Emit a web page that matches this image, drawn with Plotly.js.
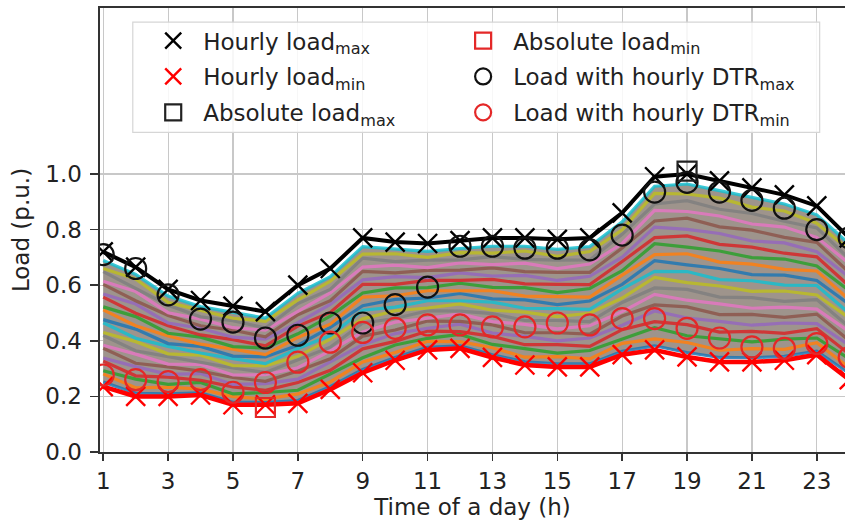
<!DOCTYPE html>
<html>
<head>
<meta charset="utf-8">
<script src="https://cdn.plot.ly/plotly-3.0.1.min.js"></script>
<style>
  html, body { margin: 0; padding: 0; background: #fff; overflow: hidden; }
  #chart { width: 845px; height: 526px; }
</style>
</head>
<body>
<div id="chart"></div>
<script>
// Hours of the day
const hours = [1,2,3,4,5,6,7,8,9,10,11,12,13,14,15,16,17,18,19,20,21,22,23,24];
const tickHours = [1,3,5,7,9,11,13,15,17,19,21,23];
const tickHourLabels = ['1','3','5','7','9','11','13','15','17','19','21','23'];
const loadTicks = [0, 0.2, 0.4, 0.6, 0.8, 1.0];
const loadTickLabels = ['0.0','0.2','0.4','0.6','0.8','1.0'];

// Envelope of the hourly loads (p.u.)
const hourlyLoadMax = [0.72,0.665,0.585,0.545,0.525,0.505,0.60,0.66,0.77,0.755,0.75,0.76,0.77,0.77,0.765,0.77,0.86,0.99,1.0,0.975,0.95,0.925,0.885,0.77];
const hourlyLoadMin = [0.235,0.20,0.20,0.205,0.17,0.17,0.175,0.225,0.285,0.33,0.367,0.373,0.34,0.313,0.306,0.306,0.35,0.367,0.342,0.324,0.324,0.33,0.35,0.26];

// Absolute extremes
const absoluteMaxHour = [19];
const absoluteMaxLoad = [1.01];
const absoluteMinHour = [6];
const absoluteMinLoad = [0.16];

// Loads at the hours with extreme dynamic thermal rating
const dtrMaxLoad = [0.71,0.66,0.565,0.478,0.467,0.41,0.42,0.464,0.464,0.53,0.593,0.74,0.74,0.733,0.733,0.727,0.78,0.935,0.97,0.935,0.905,0.877,0.80,0.77];
const dtrMinLoad = [0.277,0.26,0.253,0.26,0.215,0.25,0.323,0.395,0.43,0.445,0.457,0.457,0.45,0.45,0.464,0.457,0.48,0.48,0.445,0.41,0.378,0.373,0.39,0.34];

// Daily load profiles (p.u.)
const loadProfiles = [
  [.252,.211,.209,.213,.179,.178,.185,.235,.297,.340,.376,.382,.350,.324,.317,.317,.362,.382,.358,.340,.339,.344,.363,.282],
  [.281,.231,.233,.226,.199,.190,.209,.252,.324,.358,.398,.397,.375,.341,.343,.335,.391,.407,.394,.366,.372,.369,.393,.303],
  [.292,.262,.243,.250,.209,.214,.222,.281,.339,.385,.409,.423,.387,.372,.356,.365,.407,.447,.418,.407,.396,.406,.410,.335],
  [.327,.274,.269,.258,.234,.222,.250,.294,.371,.398,.435,.433,.416,.386,.386,.380,.440,.469,.458,.431,.434,.427,.444,.352],
  [.338,.307,.279,.282,.243,.246,.262,.323,.386,.426,.445,.460,.428,.416,.400,.410,.456,.507,.482,.470,.456,.464,.462,.384],
  [.373,.319,.306,.291,.268,.254,.291,.335,.417,.439,.471,.470,.457,.429,.429,.424,.489,.529,.522,.494,.495,.484,.496,.401],
  [.384,.352,.316,.315,.277,.278,.303,.364,.432,.467,.481,.497,.469,.459,.443,.454,.505,.567,.546,.533,.517,.521,.514,.433],
  [.419,.364,.343,.323,.302,.286,.331,.377,.464,.480,.508,.507,.498,.473,.473,.469,.538,.590,.585,.557,.555,.542,.548,.450],
  [.430,.397,.353,.348,.311,.310,.344,.406,.479,.508,.518,.533,.510,.503,.487,.499,.554,.628,.609,.597,.578,.579,.565,.482],
  [.465,.409,.380,.356,.336,.318,.372,.419,.510,.521,.544,.544,.539,.517,.516,.513,.587,.650,.649,.620,.616,.600,.599,.499],
  [.476,.442,.390,.380,.345,.342,.384,.448,.526,.549,.554,.570,.551,.547,.530,.543,.603,.688,.673,.660,.638,.636,.617,.531],
  [.511,.454,.417,.388,.370,.350,.412,.460,.557,.562,.580,.581,.580,.561,.560,.557,.636,.710,.713,.683,.676,.657,.651,.548],
  [.522,.487,.427,.413,.379,.374,.425,.489,.572,.590,.591,.607,.592,.591,.573,.588,.652,.749,.737,.723,.699,.694,.669,.580],
  [.557,.499,.454,.421,.404,.382,.453,.502,.603,.603,.617,.617,.621,.605,.603,.602,.685,.771,.777,.747,.737,.715,.702,.597],
  [.568,.532,.464,.445,.413,.406,.465,.531,.619,.631,.627,.644,.633,.635,.617,.632,.701,.809,.801,.786,.759,.752,.720,.629],
  [.603,.544,.491,.454,.438,.414,.494,.544,.650,.644,.653,.654,.662,.649,.646,.646,.734,.831,.841,.810,.798,.772,.754,.646],
  [.614,.577,.501,.478,.447,.438,.506,.572,.665,.672,.663,.680,.674,.679,.660,.676,.750,.869,.865,.849,.820,.809,.772,.678],
  [.649,.589,.528,.486,.472,.446,.534,.585,.697,.685,.690,.691,.703,.693,.690,.691,.783,.892,.904,.873,.858,.830,.806,.695],
  [.660,.622,.538,.510,.481,.470,.547,.614,.712,.713,.700,.717,.715,.723,.704,.721,.799,.930,.928,.913,.881,.867,.823,.727],
  [.689,.639,.561,.523,.502,.482,.571,.631,.739,.730,.722,.732,.740,.740,.729,.739,.828,.956,.964,.940,.915,.892,.853,.748]
];

const cycleColors = ['#1f77b4','#ff7f0e','#2ca02c','#d62728','#9467bd','#8c564b','#e377c2','#7f7f7f','#bcbd22','#17becf'];
const textFont = { family: 'DejaVu Sans, sans-serif', size: 23, color: '#222' };
const tickFont = { family: 'DejaVu Sans, sans-serif', size: 23, color: '#222' };
const redMark = 'rgb(228,40,40)';

const traces = [];

// Muted base between the lowest and highest profiles
traces.push({ x: hours, y: loadProfiles[0], mode: 'lines', line: { width: 0 }, showlegend: false, hoverinfo: 'skip' });
traces.push({ x: hours, y: loadProfiles[loadProfiles.length - 1], mode: 'lines', line: { width: 0 },
  fill: 'tonexty', fillcolor: 'rgb(158,148,140)', showlegend: false, hoverinfo: 'skip' });

// Individual profiles
loadProfiles.forEach((p, i) => {
  traces.push({ x: hours, y: p, mode: 'lines', showlegend: false, hoverinfo: 'skip',
    line: { color: cycleColors[i % cycleColors.length], width: 3.2 }, opacity: 0.85 });
});

// Envelope lines
traces.push({ x: hours, y: hourlyLoadMax, mode: 'lines', line: { color: '#000', width: 4 }, showlegend: false });
traces.push({ x: hours, y: hourlyLoadMin, mode: 'lines', line: { color: '#ff0000', width: 4.5 }, showlegend: false });

// Legend column 1
traces.push({ x: hours, y: hourlyLoadMax, mode: 'markers', name: 'Hourly load<sub>max</sub>',
  marker: { symbol: 'x-thin', size: 19, line: { color: '#000', width: 2.4 } },
  legend: 'legend', legendgroup: 'a' });
traces.push({ x: hours, y: hourlyLoadMin, mode: 'markers', name: 'Hourly load<sub>min</sub>',
  marker: { symbol: 'x-thin', size: 19, line: { color: '#ff0000', width: 2.4 } },
  legend: 'legend', legendgroup: 'b' });
traces.push({ x: absoluteMaxHour, y: absoluteMaxLoad, mode: 'markers', name: 'Absolute load<sub>max</sub>',
  marker: { symbol: 'square-open', size: 19, color: '#222', line: { color: '#222', width: 2.2 } },
  legend: 'legend', legendgroup: 'c' });

// Legend column 2
traces.push({ x: absoluteMinHour, y: absoluteMinLoad, mode: 'markers', name: 'Absolute load<sub>min</sub>',
  marker: { symbol: 'square-open', size: 19, color: redMark, line: { color: redMark, width: 2.2 } },
  legend: 'legend2', legendgroup: 'd' });
traces.push({ x: hours, y: dtrMaxLoad, mode: 'markers', name: 'Load with hourly DTR<sub>max</sub>',
  marker: { symbol: 'circle-open', size: 21, color: '#111', line: { color: '#111', width: 2.2 } },
  legend: 'legend2', legendgroup: 'e' });
traces.push({ x: hours, y: dtrMinLoad, mode: 'markers', name: 'Load with hourly DTR<sub>min</sub>',
  marker: { symbol: 'circle-open', size: 21, color: redMark, line: { color: redMark, width: 2.2 } },
  legend: 'legend2', legendgroup: 'f' });

const legendCommon = {
  font: textFont, bgcolor: 'rgba(0,0,0,0)', borderwidth: 0,
  orientation: 'v', yanchor: 'top', xanchor: 'left', tracegroupgap: 3,
  itemsizing: 'trace', itemwidth: 50
};

const layout = {
  width: 845, height: 526,
  margin: { l: 100, r: 0, t: 8, b: 74 },
  paper_bgcolor: '#fff', plot_bgcolor: '#fff',
  showlegend: true,
  xaxis: {
    range: [0.90, 23.87],
    tickmode: 'array', tickvals: tickHours, ticktext: tickHourLabels,
    ticks: 'outside', ticklen: 7, tickwidth: 1.5, tickcolor: '#333',
    tickfont: tickFont,
    showgrid: true, gridcolor: '#c8c8c8', gridwidth: 1.2,
    showline: true, linecolor: '#333', linewidth: 2, mirror: true,
    zeroline: false,
    title: { text: 'Time of a day (h)', font: textFont, standoff: 6 }
  },
  yaxis: {
    range: [0, 1.597],
    tickmode: 'array', tickvals: loadTicks, ticktext: loadTickLabels,
    ticks: 'outside', ticklen: 8, tickwidth: 1.5, tickcolor: '#333',
    tickfont: tickFont, ticklabelstandoff: 3,
    showgrid: true, gridcolor: '#c8c8c8', gridwidth: 1.2,
    showline: true, linecolor: '#333', linewidth: 2.5,
    zeroline: false,
    title: { text: 'Load (p.u.)', font: textFont, standoff: 10 }
  },
  legend: Object.assign({}, legendCommon, { x: 0.058, y: 0.975 }),
  legend2: Object.assign({}, legendCommon, { x: 0.474, y: 0.975 }),
  shapes: [{
    type: 'rect', xref: 'paper', yref: 'paper', layer: 'above',
    x0: 0.044, x1: 0.966, y0: 0.72, y1: 0.968,
    fillcolor: 'rgba(255,255,255,0.85)', line: { color: '#d6d6d6', width: 1.2 }
  }]
};

Plotly.newPlot('chart', traces, layout, { displayModeBar: false, staticPlot: true });
</script>
</body>
</html>
